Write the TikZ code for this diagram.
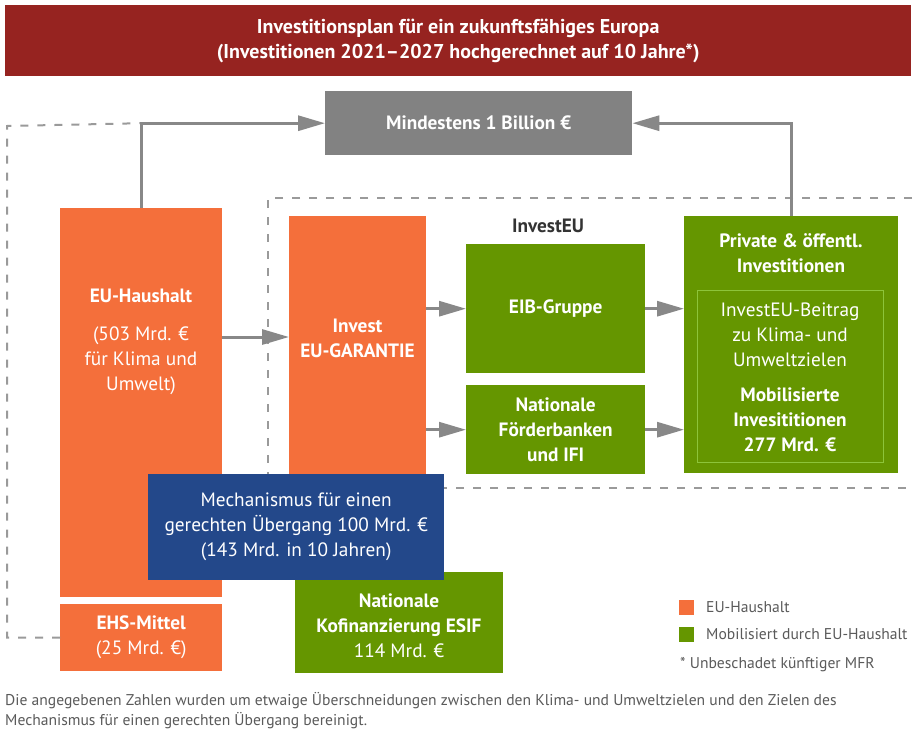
\documentclass[tikz,border=0pt]{standalone}
\usepackage{fontspec}
\setmainfont{PT Sans}
\usetikzlibrary{positioning,arrows.meta}
\definecolor{euorange}{HTML}{F46F3B}
\definecolor{eugreen}{HTML}{659600}
\definecolor{lightgreen}{HTML}{8DC43A}
\definecolor{titlered}{HTML}{962320}
\definecolor{eublue}{HTML}{23488A}
\definecolor{boxgray}{HTML}{828282}
\definecolor{linegray}{HTML}{888888}
\definecolor{textgray}{HTML}{5A5A5A}
\newcommand\bodyfont{\fontsize{19.3}{25}\selectfont}
\newcommand\smallfont{\fontsize{15.6}{20}\selectfont}

\begin{document}
\begin{tikzpicture}[x=1pt,y=-1pt,
	box/.style={rectangle,inner sep=0pt,anchor=north west,text=white,align=center,font=\bodyfont},
	arr/.style={draw=linegray,line width=3pt,-{Triangle[length=27pt,width=15pt]}},
	dashline/.style={draw=linegray!85,line width=2pt,dash pattern=on 8pt off 9pt}]
	%% page frame
	\useasboundingbox (0,0) rectangle (914,734);
	\fill[white] (0,0) rectangle (914,734);

	% title bar
	\node[box,fill=titlered,minimum width=906,minimum height=71,font=\fontsize{20}{25}\selectfont\bfseries] (title) at (5,5)
		{Investitionsplan für ein zukunftsfähiges Europa\\(Investitionen 2021--2027 hochgerechnet auf 10 Jahre*)};

	% dashed frames (behind the boxes)
	\draw[dashline] (912,198) -| (268,488) -- (912,488);

	% boxes
	\node[box,fill=boxgray,minimum width=307,minimum height=64,font=\bodyfont\bfseries] (mind) at (325,91) {Mindestens 1 Billion €};
	\node[box,fill=euorange,minimum width=162,minimum height=389] (eu) at (60,208) {};
	\node[box,fill=euorange,minimum width=162,minimum height=67] (ehs) at (60,604) {\textbf{EHS-Mittel}\\(25 Mrd. €)};
	\node[box,fill=euorange,minimum width=137,minimum height=290] (inv) at (289,216) {};
	\node[box,fill=eugreen,minimum width=179,minimum height=129,font=\bodyfont\bfseries] (eib) at (466,244) {EIB-Gruppe};
	\node[box,fill=eugreen,minimum width=179,minimum height=89,font=\bodyfont\bfseries] (nfb) at (466,385) {Nationale\\Förderbanken\\und IFI};
	\node[box,fill=eugreen,minimum width=214,minimum height=257] (priv) at (684,216) {};
	\node[box,draw=lightgreen,line width=1.2pt,minimum width=186,minimum height=172] (beitrag) at (697,290) {};
	\node[box,fill=eugreen,minimum width=208,minimum height=101] (kofi) at (295,572) {};
	\node[box,fill=eublue,minimum width=296,minimum height=106] (jtm) at (148,474)
		{Mechanismus für einen\\gerechten Übergang 100 Mrd. €\\(143 Mrd. in 10 Jahren)};

	% texts inside the tall boxes
	\node[box,anchor=center] (eutext) at (141,342) {\textbf{EU-Haushalt}\\[13pt](503 Mrd. €\\für Klima und\\Umwelt)};
	\node[box,anchor=center,font=\bodyfont\bfseries] (invtext) at (357.5,338) {Invest\\EU-GARANTIE};
	\node[box,anchor=center,font=\bodyfont\bfseries] (privtext) at (791,253.5) {Private \& öffentl.\\Investitionen};
	\node[box,anchor=center] (beitragtext) at (790,377.5)
		{InvestEU-Beitrag\\zu Klima- und\\Umweltzielen\\[10pt]\textbf{Mobilisierte}\\\textbf{Invesititionen}\\\textbf{277 Mrd. €}};
	\node[box,anchor=center] (kofitext) at (399,626) {\textbf{Nationale}\\\textbf{Kofinanzierung ESIF}\\114 Mrd. €};
	\node[font=\bodyfont\bfseries,text=black!80] (investeu) at (548,226) {InvestEU};

	% outer dashed loop
	\draw[dashline] (ehs.west) -| (7,126) -- (eu.north |- mind.west);

	% arrows
	\draw[arr] (eu.north) |- (mind.west);
	\draw[arr] (priv.north) |- (mind.east);
	\draw[arr] (eu.east |- 0,337) -- (inv.west |- 0,337);
	\draw[arr] (inv.east |- eib.west) -- (eib.west);
	\draw[arr] (inv.east |- nfb.west) -- (nfb.west);
	\draw[arr] (eib.east) -- (priv.west |- eib.east);
	\draw[arr] (nfb.east) -- (priv.west |- nfb.east);

	% legend
	\fill[euorange] (679,600) rectangle (694,615);
	\fill[eugreen] (679,627) rectangle (694,642);
	\node[anchor=west,inner sep=0pt,font=\smallfont,text=textgray] (legorange) at (706,607) {EU-Haushalt};
	\node[anchor=west,inner sep=0pt,font=\smallfont,text=textgray] (leggreen) at (706,634) {Mobilisiert durch EU-Haushalt};
	\node[anchor=west,inner sep=0pt,font=\smallfont,text=textgray] (mfr) at (680,665) {* Unbeschadet künftiger MFR};

	% footnote
	\node[anchor=west,inner sep=0pt,align=left,font=\smallfont,text=textgray] (note) at (5,711)
		{Die angegebenen Zahlen wurden um etwaige Überschneidungen zwischen den Klima- und Umweltzielen und den Zielen des\\Mechanismus für einen gerechten Übergang bereinigt.};
\end{tikzpicture}
\end{document}
